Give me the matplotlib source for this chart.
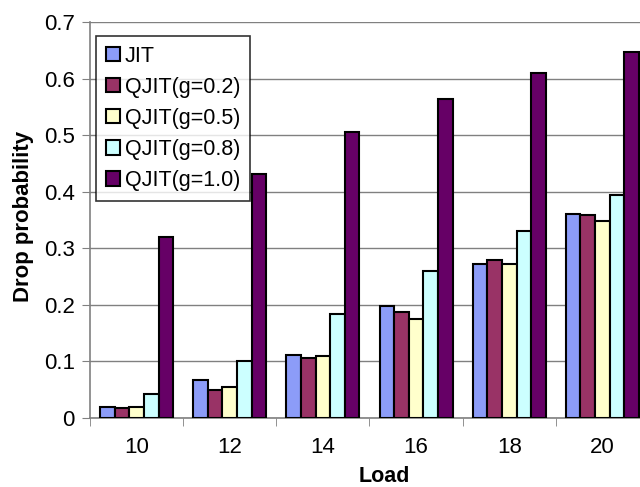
import matplotlib
matplotlib.use("Agg")
import matplotlib.pyplot as plt
import numpy as np

plt.rcParams['font.family'] = ['Liberation Sans', 'DejaVu Sans']

loads = ["10", "12", "14", "16", "18", "20"]
series_names = ["JIT", "QJIT(g=0.2)", "QJIT(g=0.5)", "QJIT(g=0.8)", "QJIT(g=1.0)"]
jit = [0.020, 0.068, 0.111, 0.198, 0.273, 0.360]
qjit_02 = [0.018, 0.050, 0.106, 0.188, 0.279, 0.359]
qjit_05 = [0.019, 0.055, 0.110, 0.175, 0.273, 0.348]
qjit_08 = [0.042, 0.100, 0.183, 0.260, 0.331, 0.395]
qjit_10 = [0.320, 0.431, 0.505, 0.564, 0.609, 0.647]
colors = ["#8c9cf8", "#993366", "#ffffcc", "#ccffff", "#660066"]

series = [jit, qjit_02, qjit_05, qjit_08, qjit_10]

fig = plt.figure(figsize=(6.4, 4.87), dpi=100)
ax = fig.add_axes([90 / 640, 1 - 418 / 487, 559 / 640, 396 / 487])

x = np.arange(len(loads))
bw = 0.157
for i, (vals, name, c) in enumerate(zip(series, series_names, colors)):
    ax.bar(x + (i - 2) * bw, vals, width=bw, color=c, edgecolor="black",
           linewidth=1.5, label=name, zorder=3)

ax.set_xlim(-0.5, len(loads) - 0.5)
ax.set_ylim(0, 0.7)
ax.set_yticks(np.arange(0, 0.71, 0.1))
ax.set_yticklabels(["0"] + [f"{v:.1f}" for v in np.arange(0.1, 0.71, 0.1)])
ax.set_xticks(x)
ax.set_xticklabels(loads)
ax.set_xticks(np.arange(-0.5, len(loads), 1), minor=True)
ax.tick_params(axis="x", which="major", length=0, pad=14, labelsize=16)
ax.tick_params(axis="x", which="minor", length=6, color="#808080", direction="out")
ax.tick_params(axis="y", length=6, color="#808080", labelsize=16, pad=5)

ax.grid(axis="y", color="#808080", linewidth=1, zorder=0)
ax.set_axisbelow(True)
for s in ["top", "right"]:
    ax.spines[s].set_visible(False)
for s in ["left", "bottom"]:
    ax.spines[s].set_color("#808080")
    ax.spines[s].set_linewidth(1.2)

fig.text(24 / 640, 1 - 216 / 487, "Drop probability", fontsize=16, fontweight="bold",
         rotation=90, ha="center", va="center")
fig.text(384 / 640, 1 - 477 / 487, "Load", fontsize=15.5, fontweight="bold",
         ha="center", va="center")

leg = ax.legend(loc="upper left", bbox_to_anchor=(0.0107, 0.965), borderaxespad=0,
                fontsize=15.5, frameon=True, fancybox=False, handlelength=0.65,
                handleheight=0.65, handletextpad=0.25, labelspacing=0.47,
                borderpad=0.45)
leg.get_frame().set_edgecolor("black")
leg.get_frame().set_linewidth(1.2)

fig.savefig("out.png", dpi=100)
